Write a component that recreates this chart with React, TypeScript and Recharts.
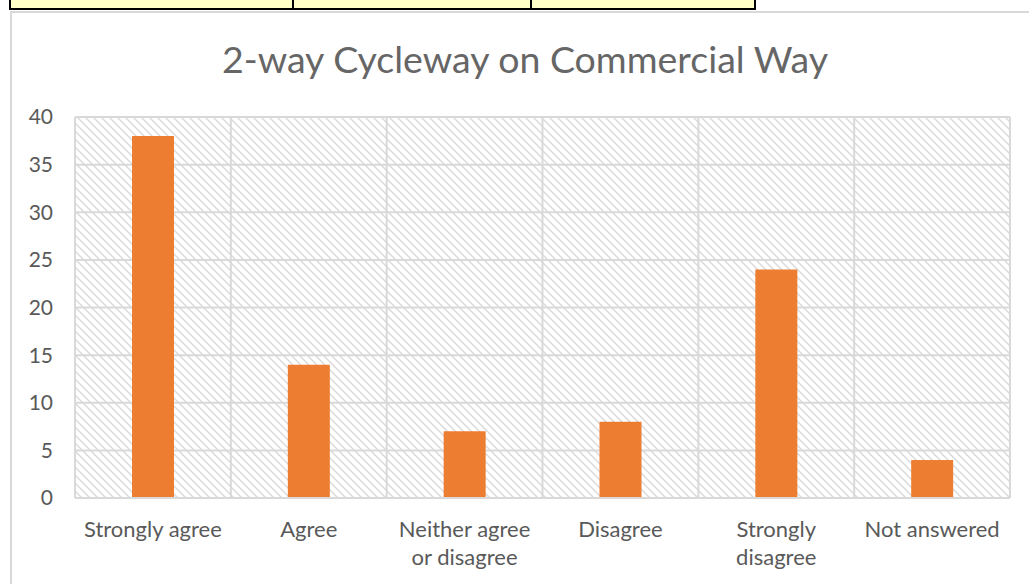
import React from 'react';
import { BarChart, Bar, XAxis, YAxis, CartesianGrid } from 'recharts';

const categories = ['Strongly agree', 'Agree', 'Neither agree or disagree', 'Disagree', 'Strongly disagree', 'Not answered'];
const tickLines = [['Strongly agree'], ['Agree'], ['Neither agree', 'or disagree'], ['Disagree'], ['Strongly', 'disagree'], ['Not answered']];
const counts = [38, 14, 7, 8, 24, 4];
const yTicks = [0, 5, 10, 15, 20, 25, 30, 35, 40];
const title = '2-way Cycleway on Commercial Way';

const data = categories.map((c, i) => ({ category: c, value: counts[i] }));

const FONT = 'Lato, "Open Sans", sans-serif';
const TEXT = '#595959';
const GRID = '#d9d9d9';

const XTick = (props: any) => {
  const { x, y, payload } = props;
  const idx = categories.indexOf(payload.value);
  const lines = idx >= 0 ? tickLines[idx] : [String(payload.value)];
  return (
    <text x={x} y={y} textAnchor="middle" fill={TEXT} fontSize={22} fontFamily={FONT}>
      {lines.map((l, i) => (
        <tspan key={i} x={x} dy={i === 0 ? 31 : 28}>{l}</tspan>
      ))}
    </text>
  );
};

export default function App() {
  return (
    <div style={{ position: 'absolute', left: 0, top: 0, width: 1029, height: 584, background: '#fff', overflow: 'hidden' }}>
      {/* chart frame */}
      <div style={{ position: 'absolute', left: 10, top: 11, width: 1100, height: 700, borderLeft: `2px solid ${GRID}`, borderTop: `2px solid ${GRID}` }} />
      {/* spreadsheet cells above */}
      <div style={{ position: 'absolute', left: 9, top: -5, width: 285, height: 15, background: '#ffffc8', border: '2px solid #000', boxSizing: 'border-box' }} />
      <div style={{ position: 'absolute', left: 292, top: -5, width: 240, height: 15, background: '#ffffc8', border: '2px solid #000', boxSizing: 'border-box' }} />
      <div style={{ position: 'absolute', left: 530, top: -5, width: 226, height: 15, background: '#ffffc8', border: '2px solid #000', boxSizing: 'border-box' }} />
      <svg style={{ position: 'absolute', left: 0, top: 0 }} width={1029} height={100}>
        <text x={525} y={73} textAnchor="middle" fill="#666666" fontSize={37.5} fontFamily={FONT}>{title}</text>
      </svg>
      <div style={{ position: 'absolute', left: 0, top: 0 }}>
        <BarChart width={1029} height={584} data={data} margin={{ top: 117, right: 19, bottom: 6, left: 0 }}>
          <defs>
            <pattern id="hatch" width={8} height={8} patternUnits="userSpaceOnUse">
              <rect width={8} height={8} fill="#ffffff" />
              <path d="M-2,-2 L10,10 M-2,6 L2,10 M6,-2 L10,2" stroke="#dadada" strokeWidth={1.5} />
            </pattern>
          </defs>
          <CartesianGrid
            fill="url(#hatch)"
            fillOpacity={1}
            stroke={GRID}
            strokeWidth={2}
            verticalCoordinatesGenerator={({ offset }: any) =>
              [...categories.map((_, i) => offset.left + (i * offset.width) / categories.length), offset.left + offset.width]
            }
          />
          <XAxis dataKey="category" height={80} tickLine={false} axisLine={{ stroke: GRID, strokeWidth: 2 }} tick={<XTick />} interval={0} />
          <YAxis
            width={75}
            domain={[0, 40]}
            ticks={yTicks}
            tickLine={false}
            axisLine={false}
            tickMargin={16}
            tick={{ fill: TEXT, fontSize: 21, fontFamily: FONT }}
          />
          <Bar dataKey="value" fill="#ED7D31" barSize={42} isAnimationActive={false} />
        </BarChart>
      </div>
    </div>
  );
}
